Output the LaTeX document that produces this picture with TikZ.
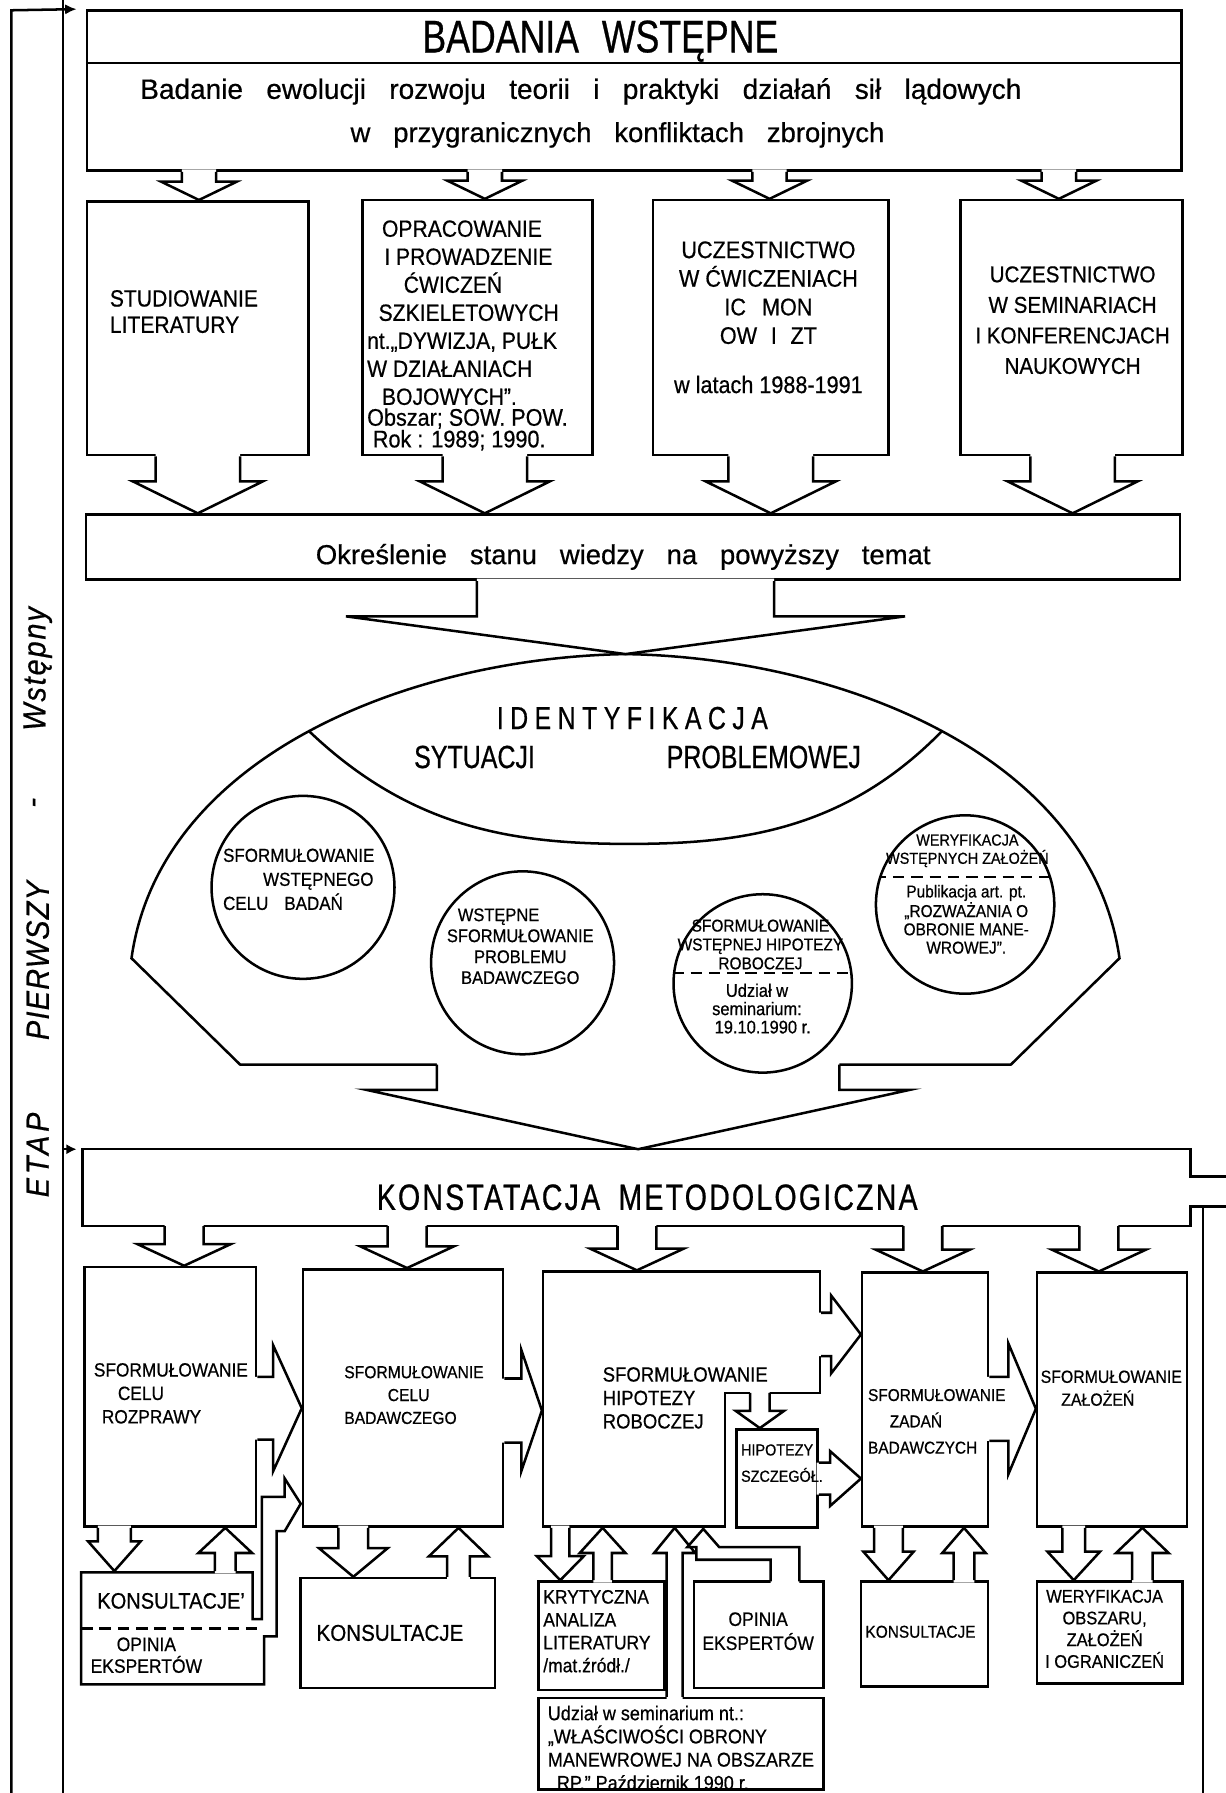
\documentclass[tikz,border=0pt]{standalone}
\usepackage{fontspec}
\setmainfont{Liberation Sans}[FakeStretch=0.9,FakeBold=0.6]
\newfontfamily\condfont{Liberation Sans}[FakeStretch=0.78,WordSpace=2,FakeBold=0.6]
\newfontfamily\handfont{Liberation Sans}[WordSpace=3,FakeBold=0.6]
\usetikzlibrary{calc,arrows.meta}

\newcommand{\fs}[2]{\fontsize{#1}{#2}\selectfont}

% fat arrows, open at the base: #1 start, #2 tip, #3 half shaft, #4 half head, #5 head length
\newcommand{\fatdown}[5]{%
  \fill[white] let \p1=(#1), \p2=(#2) in
    ({\x1-#3},{\y1+2}) -- ({\x1-#3},{\y2+#5}) -- ({\x1-#4},{\y2+#5}) -- (\x1,\y2)
    -- ({\x1+#4},{\y2+#5}) -- ({\x1+#3},{\y2+#5}) -- ({\x1+#3},{\y1+2}) -- cycle;
  \draw let \p1=(#1), \p2=(#2) in
    ({\x1-#3},\y1) -- ({\x1-#3},{\y2+#5}) -- ({\x1-#4},{\y2+#5}) -- (\x1,\y2)
    -- ({\x1+#4},{\y2+#5}) -- ({\x1+#3},{\y2+#5}) -- ({\x1+#3},\y1);}
\newcommand{\fatup}[5]{%
  \fill[white] let \p1=(#1), \p2=(#2) in
    ({\x1-#3},{\y1-2}) -- ({\x1-#3},{\y2-#5}) -- ({\x1-#4},{\y2-#5}) -- (\x1,\y2)
    -- ({\x1+#4},{\y2-#5}) -- ({\x1+#3},{\y2-#5}) -- ({\x1+#3},{\y1-2}) -- cycle;
  \draw let \p1=(#1), \p2=(#2) in
    ({\x1-#3},\y1) -- ({\x1-#3},{\y2-#5}) -- ({\x1-#4},{\y2-#5}) -- (\x1,\y2)
    -- ({\x1+#4},{\y2-#5}) -- ({\x1+#3},{\y2-#5}) -- ({\x1+#3},\y1);}
\newcommand{\fatright}[5]{%
  \fill[white] let \p1=(#1), \p2=(#2) in
    ({\x1-2},{\y1+#3}) -- ({\x2-#5},{\y1+#3}) -- ({\x2-#5},{\y1+#4}) -- (\x2,\y1)
    -- ({\x2-#5},{\y1-#4}) -- ({\x2-#5},{\y1-#3}) -- ({\x1-2},{\y1-#3}) -- cycle;
  \draw let \p1=(#1), \p2=(#2) in
    (\x1,{\y1+#3}) -- ({\x2-#5},{\y1+#3}) -- ({\x2-#5},{\y1+#4}) -- (\x2,\y1)
    -- ({\x2-#5},{\y1-#4}) -- ({\x2-#5},{\y1-#3}) -- (\x1,{\y1-#3});}

\tikzset{
  box/.style={draw, rectangle, inner sep=0pt},
  txt/.style={inner sep=0pt, align=left, anchor=west},
  ctxt/.style={inner sep=0pt, align=center},
  dashline/.style={dash pattern=on 10pt off 6pt},
}

\begin{document}
\begin{tikzpicture}[x=1pt, y=-1pt, line width=2.2pt]
\useasboundingbox (0,0) rectangle (1072,1568);

% badania wstepne
\node[box, minimum width=957, minimum height=140, anchor=north west] (top) at (75,8) {};
\draw ([yshift=-47]top.north west) -- ([yshift=-47]top.north east);
\node[box, minimum width=194, minimum height=222] (b1) at (173,287) {};
\node[box, minimum width=201, minimum height=223] (b2) at (417.5,286.5) {};
\node[box, minimum width=206, minimum height=223] (b3) at (674,286.5) {};
\node[box, minimum width=194, minimum height=223] (b4) at (937,286.5) {};
\node[box, minimum width=957, minimum height=57] (okr) at (553.5,478.5) {};

\path ([xshift=1]b1.north) coordinate (a1) ([xshift=6.5]b2.north) coordinate (a2)
      ([xshift=-1]b3.north) coordinate (a3) ([xshift=-11]b4.north) coordinate (a4);
\foreach \a in {a1,a2,a3,a4}
  \fatdown{top.south -| \a}{\a}{15}{33}{16};
\path ([xshift=6.5]b2.south) coordinate (d2) ([xshift=1]b4.south) coordinate (d4);
\foreach \a in {b1.south,d2,b3.south,d4}
  \fatdown{\a}{\a |- okr.north}{37}{57}{28};

% identyfikacja sytuacji problemowej
\coordinate (lenstop) at (547,572);
\draw (210,931) -- (115,838) .. controls (140,660) and (360,575) .. (lenstop) coordinate[pos=0.5] (jl)
  .. controls (734,575) and (954,660) .. (979,838) coordinate[pos=0.5] (jr) -- (884,931) -- cycle;
\draw (jl) .. controls (360,725) and (450,738) .. (550,738) .. controls (650,738) and (740,725) .. (jr);
\fatdown{okr.south -| lenstop}{lenstop}{130}{244.5}{33};

% konstatacja metodologiczna
\node[minimum width=967, minimum height=65, anchor=north west, inner sep=0pt] (konst) at (72,1005) {};
\draw (1072,1029) -- (konst.north east |- 0,1029) -- (konst.north east) -- (konst.north west)
  -- (konst.south west) -- (konst.south east) -- (konst.south east |- 0,1055) -- (1072,1055);
\draw (1052,1055) -- (1052,1568);
\coordinate (lensbot) at (558,931);
\fatdown{lensbot}{lensbot |- konst.north}{176}{238}{52};

\node[circle, draw, minimum size=160, inner sep=0pt] (c1) at (265,776) {};
\node[circle, draw, minimum size=160, inner sep=0pt] (c2) at (457,842) {};
\node[circle, draw, minimum size=156, inner sep=0pt] (c3) at (667,860) {};
\node[circle, draw, minimum size=156, inner sep=0pt] (c4) at (844,791) {};
\begin{scope}
  \clip (c3.center) circle (78pt);
  \draw[dashline] ([yshift=9]c3.west) -- ([yshift=9]c3.east);
\end{scope}
\begin{scope}
  \clip (c4.center) circle (78pt);
  \draw[dashline] ([yshift=24]c4.west) -- ([yshift=24]c4.east);
\end{scope}

% stage frame
\draw[-{Latex[length=10pt,width=9pt]}] (10,1568) -- (10,9) -- ([xshift=-8]top.north west);
\draw (55,0) -- (55,1568);
\draw[-{Latex[length=9pt,width=9pt]}] (55,1005) -- ([xshift=-5]konst.north west);

% second row
\node[box, minimum width=150, minimum height=227] (r1) at (149,1221.5) {};
\node[box, minimum width=175, minimum height=225] (r2) at (352.5,1222.5) {};
\node[box, minimum width=242, minimum height=223] (r3) at (596,1223.5) {};
\node[box, minimum width=110, minimum height=222] (r4) at (809,1224) {};
\node[box, minimum width=131, minimum height=222] (r5) at (972.5,1224) {};

\coordinate (notch) at (634,1218);
\fill[white] ([shift={(1,1)}]notch) rectangle ([shift={(3,3)}]r3.south east);
\draw (r3.east |- notch) -- (notch) -- (notch |- r3.south);
\node[box, minimum width=71, minimum height=86] (hip) at (679.5,1293) {};
\coordinate (hipin) at (664.5,1218);
\fatdown{hipin}{hipin |- hip.north}{8.5}{21}{15};

\path ([xshift=12]r1.north) coordinate (e1) ([xshift=3.5]r2.north) coordinate (e2)
      ([xshift=-39]r3.north) coordinate (e3) ([xshift=-2]r4.north) coordinate (e4)
      ([xshift=-11.5]r5.north) coordinate (e5);
\foreach \a in {e1,e2,e3,e4,e5}
  \fatdown{konst.south -| \a}{\a}{17}{41}{19};

\fatright{[yshift=-10]r1.east}{r2.west}{27.5}{55}{25};
\fatright{[yshift=-11]r2.east}{r3.west}{28}{53}{18};
\fatright{r3.east |- 0,1167}{r4.west}{19}{34}{26};
\fatright{hip.east}{r4.west}{14}{24}{27};
\fatright{[yshift=-8]r4.east}{r5.west}{28}{57}{24};

% third row
\node[minimum width=159, minimum height=98, inner sep=0pt] (k1) at (150.5,1424) {};
\draw (229,1416) -- (221,1416) -- (221,1375) -- (71,1375) -- (71,1473) -- (231,1473)
  -- (231,1431) -- (242,1431) -- (242,1339) -- (249,1339) -- (263,1315) -- (249,1293)
  -- (249,1309) -- (229,1309) -- cycle;
\draw[dashline] (71,1424) -- (231,1424);
\node[box, minimum width=170, minimum height=96] (k2) at (348,1428) {};
\node[box, minimum width=110, minimum height=95] (kry) at (526,1430.5) {};
\node[box, minimum width=113, minimum height=93] (op2) at (663.5,1429.5) {};
\node[box, minimum width=249, minimum height=80] (sem) at (595.5,1525) {};
\node[box, minimum width=111, minimum height=92] (k3) at (808.5,1429) {};
\node[box, minimum width=127, minimum height=89] (wer) at (970.5,1427.5) {};

\fatdown{[xshift=-49]r1.south}{k1.north}{14.5}{23}{26};
\fatup{[xshift=46.5]k1.north}{r1.south}{9}{23.5}{22};
\fatdown{[xshift=-43.5]r2.south}{k2.north}{13}{30}{25};
\fatup{[xshift=53]k2.north}{r2.south}{10}{26}{25};
\fatdown{[xshift=-106]r3.south}{kry.north}{8}{20.5}{21};
\fatup{[xshift=1]kry.north}{r3.south}{8}{20}{22};
\fatup{[xshift=-5.5]sem.north}{r3.south}{7}{18}{22};
\fill[white] (674,1385) -- (674,1364) -- (609,1364) -- (609,1353) -- (601,1353) -- (615,1337)
  -- (629,1353) -- (699,1353) -- (699,1385) -- cycle;
\draw (674,1383) -- (674,1364) -- (609,1364) -- (609,1353) -- (601,1353) -- (615,1337)
  -- (629,1353) -- (699,1353) -- (699,1383);
\fatdown{[xshift=-32]r4.south}{k3.north}{12.5}{22}{25};
\fatup{[xshift=34.5]k3.north}{r4.south}{9}{19}{22};
\fatdown{[xshift=-33.5]r5.south}{wer.north}{10}{23}{25};
\fatup{[xshift=28.5]wer.north}{r5.south}{9}{23}{22};

% texts
\node[ctxt, font=\condfont\fs{40}{42}] (title) at (525,36) {BADANIA\hspace{20pt}WSTĘPNE};
\node[ctxt, font=\handfont\fs{24.5}{26}] (topl1) at (508,80)
  {Badanie ewolucji rozwoju teorii i praktyki działań sił lądowych};
\node[ctxt, font=\handfont\fs{24}{26}] (topl2) at (540,118) {w przygranicznych konfliktach zbrojnych};
\node[txt, font=\fs{20.5}{23}] (b1t) at (95,272.5) {STUDIOWANIE\\LITERATURY};
\node[txt, font=\fs{20.5}{24.5}] (b2t) at (320,273.5)
  {\hspace*{13pt}OPRACOWANIE\\ \hspace*{15pt}I PROWADZENIE\\ \hspace*{32pt}ĆWICZEŃ\\
   \hspace*{10pt}SZKIELETOWYCH\\nt.„DYWIZJA, PUŁK\\W DZIAŁANIACH\\ \hspace*{13pt}BOJOWYCH”.};
\node[txt, font=\fs{21}{17.5}] (b2s) at (320,375.5) {Obszar; SOW. POW.\\ \hspace*{5pt}Rok : 1989; 1990.};
\node[ctxt, font=\fs{21}{25}] (b3t) at (672,277.5)
  {UCZESTNICTWO\\W ĆWICZENIACH\\IC\hspace{14pt}MON\\OW\hspace{12pt}I\hspace{12pt}ZT\\[18pt]w latach 1988-1991};
\node[ctxt, font=\fs{20}{26.7}] (b4t) at (938,280)
  {UCZESTNICTWO\\W SEMINARIACH\\I KONFERENCJACH\\NAUKOWYCH};
\node[ctxt, font=\handfont\fs{24}{26}] (okrt) at (545,487) {Określenie stanu wiedzy na powyższy temat};
\node[ctxt, font=\condfont\fs{28}{30}\addfontfeature{LetterSpace=20}] (ident) at (553,628) {IDENTYFIKACJA};
\node[ctxt, font=\condfont\fs{28}{30}] (sytu) at (415,662) {SYTUACJI};
\node[ctxt, font=\condfont\fs{28}{30}] (prob) at (668,662) {PROBLEMOWEJ};
\node[txt, font=\fs{16.5}{21}] (c1t) at (194,769)
  {SFORMUŁOWANIE\\ \hspace*{35pt}WSTĘPNEGO\\CELU\hspace{14pt}BADAŃ};
\node[ctxt, font=\fs{16}{18.3}] (c2t) at (455,827.5)
  {WSTĘPNE\hspace*{38pt}\\SFORMUŁOWANIE\\PROBLEMU\\BADAWCZEGO};
\node[ctxt, font=\fs{15}{16.5}] (c3a) at (665,826) {SFORMUŁOWANIE\\WSTĘPNEJ HIPOTEZY\\ROBOCZEJ};
\node[ctxt, font=\fs{16}{16}] (c3b) at (662,882) {Udział w\\seminarium:\\ \hspace*{10pt}19.10.1990 r.};
\node[ctxt, font=\fs{14}{16}] (c4a) at (846,744) {WERYFIKACJA\\WSTĘPNYCH ZAŁOŻEŃ};
\node[ctxt, font=\fs{15}{16}] (c4b) at (845,804)
  {Publikacja art. pt.\\„ROZWAŻANIA O\\OBRONIE MANE-\\WROWEJ”.};
\node[ctxt, font=\condfont\fs{32}{34}\addfontfeature{LetterSpace=6}] (konstt) at (566,1047)
  {KONSTATACJA\hspace{16pt}METODOLOGICZNA};
\node[txt, font=\fs{16.8}{20.5}] (r1t) at (81,1218.5)
  {SFORMUŁOWANIE\\ \hspace*{21pt}CELU\\ \hspace*{7pt}ROZPRAWY};
\node[txt, font=\fs{15.2}{20}] (r2t) at (300,1220) {SFORMUŁOWANIE\\ \hspace*{38pt}CELU\\BADAWCZEGO};
\node[txt, font=\fs{18}{20.5}] (r3t) at (526,1222.5) {SFORMUŁOWANIE\\HIPOTEZY\\ROBOCZEJ};
\node[txt, font=\fs{14}{23}] (hipt) at (647,1279.5) {HIPOTEZY\\SZCZEGÓŁ.};
\node[txt, font=\fs{15}{23}] (r4t) at (758,1243) {SFORMUŁOWANIE\\ \hspace*{19pt}ZADAŃ\\BADAWCZYCH};
\node[txt, font=\fs{15.4}{20}] (r5t) at (909,1214) {SFORMUŁOWANIE\\ \hspace*{18pt}ZAŁOŻEŃ};
\node[txt, font=\fs{19.5}{20}] (k1a) at (84,1400) {KONSULTACJE’};
\node[ctxt, font=\fs{17}{19}] (k1b) at (128,1447.5) {OPINIA\\EKSPERTÓW};
\node[ctxt, font=\fs{20}{22}] (k2t) at (341,1428) {KONSULTACJE};
\node[txt, font=\fs{17}{20}] (kryt) at (474,1426.5) {KRYTYCZNA\\ANALIZA\\LITERATURY\\/mat.źródł./};
\node[ctxt, font=\fs{17}{21}] (op2t) at (663,1426.5) {OPINIA\\EKSPERTÓW};
\node[ctxt, font=\fs{15}{17}] (k3t) at (805,1427) {KONSULTACJE};
\node[ctxt, font=\fs{16}{19}] (wert) at (966,1424.5) {WERYFIKACJA\\OBSZARU,\\ZAŁOŻEŃ\\I OGRANICZEŃ};
\node[txt, font=\fs{17.5}{20.3}] (semt) at (478,1528.5)
  {Udział w seminarium nt.:\\„WŁAŚCIWOŚCI OBRONY\\MANEWROWEJ NA OBSZARZE\\ \hspace*{8pt}RP.” Październik 1990 r.};

% stage label
\node[rotate=90, font=\itshape\fs{28}{30}\addfontfeature{LetterSpace=12}] (etap) at (33,1010) {ETAP};
\node[rotate=90, font=\itshape\fs{28}{30}\addfontfeature{LetterSpace=4}] (pierw) at (33,840) {PIERWSZY};
\node[rotate=90, font=\itshape\fs{28}{30}] (minus) at (33,702) {-};
\node[rotate=90, font=\itshape\fs{28}{30}\addfontfeature{LetterSpace=6}] (wstep) at (33,585) {Wstępny};
\end{tikzpicture}
\end{document}
